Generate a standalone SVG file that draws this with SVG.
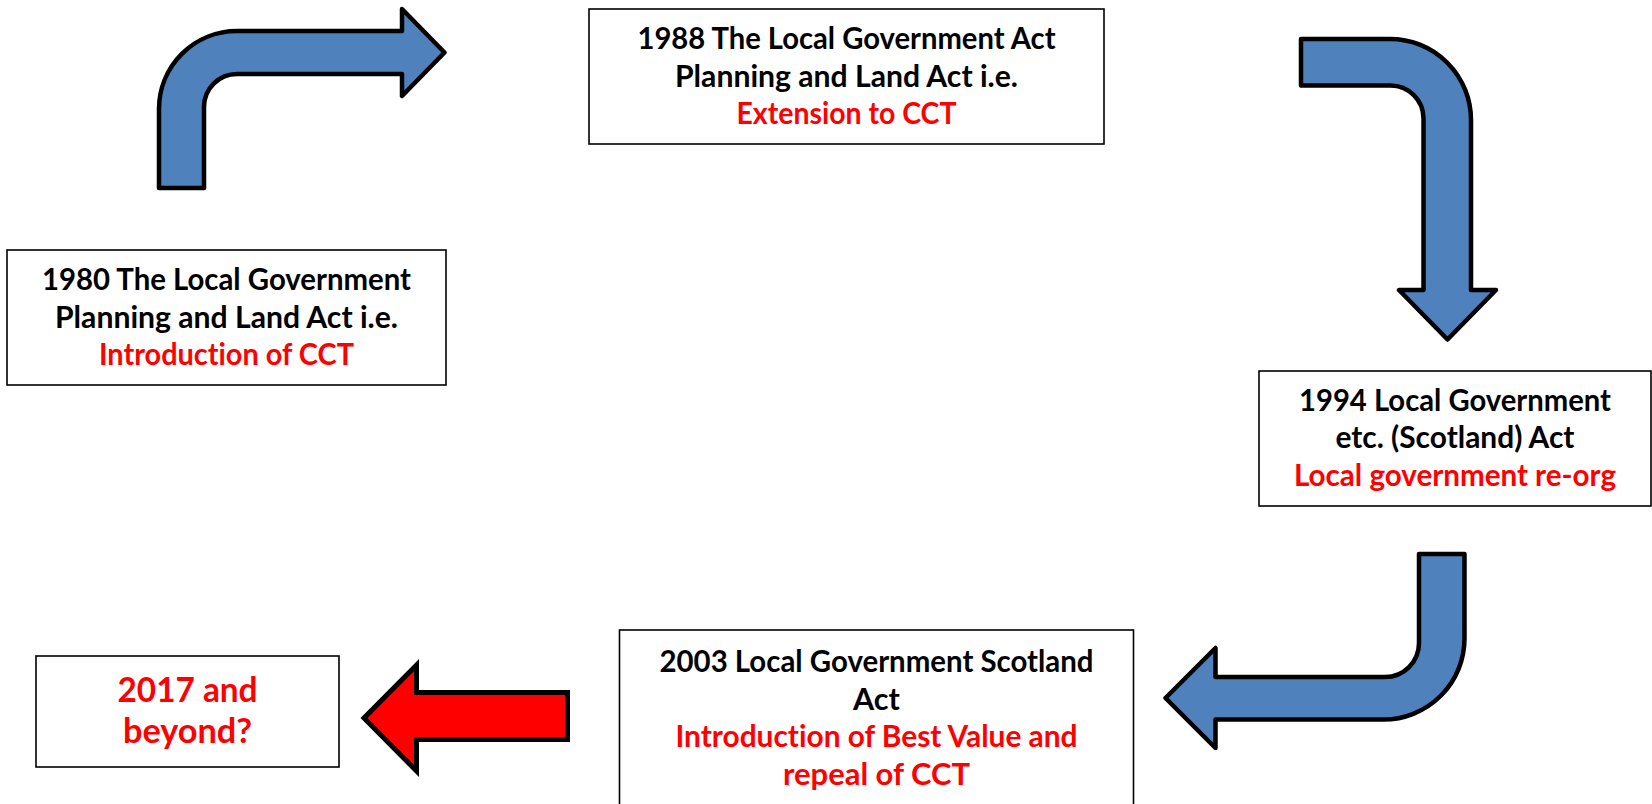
<svg xmlns="http://www.w3.org/2000/svg" width="1652" height="804" viewBox="0 0 1652 804">
<style>
.box{fill:#fff;stroke:#000;stroke-width:1.6}
.t{font-family:Lato,"Liberation Sans",sans-serif;font-weight:bold;font-size:30.5px;text-anchor:middle;fill:#000;font-variant-ligatures:none;font-feature-settings:"liga" 0}
.r{fill:#ff0000}
.big{font-size:35px}
.blue{fill:#4f81bd;stroke:#000;stroke-width:4.5;stroke-linejoin:round}
.red{fill:#ff0000;stroke:#000;stroke-width:5;stroke-linejoin:miter}
</style>
<rect width="1652" height="804" fill="#fff"/>
<g id="connectors">
<path class="blue" d="M159,188 L159,109 A78,78 0 0 1 237,31 L402,31 L402,9 L444.5,52.5 L402,96 L402,74 L237,74 A33,33 0 0 0 204,107 L204,188 Z"/>
<path class="blue" d="M1301,39 L1390,39 A81,81 0 0 1 1471,120 L1471,290 L1496,290 L1447.5,339.5 L1399,290 L1423.5,290 L1423.5,118.5 A33,33 0 0 0 1390.5,85.5 L1301,85.5 Z"/>
<path class="blue" d="M1419,554 L1464.5,554 L1464.5,638.5 A81,81 0 0 1 1383.5,719.5 L1215.5,719.5 L1215.5,748 L1165.5,698 L1215.5,648 L1215.5,677 L1385,677 A34,34 0 0 0 1419,643 Z"/>
<path class="red" d="M567.5,692.5 L567.5,739.5 L416.5,739.5 L416.5,771 L364,718 L416.5,665 L416.5,692.5 Z"/>
</g>
<g id="n1980">
<rect class="box" x="7" y="250" width="439" height="135"/>
<text class="t" x="226.5" y="290" textLength="369" lengthAdjust="spacingAndGlyphs">1980 The Local Government</text>
<text class="t" x="226.5" y="327.5" textLength="343" lengthAdjust="spacingAndGlyphs">Planning and Land Act i.e.</text>
<text class="t r" x="226.5" y="365" textLength="255" lengthAdjust="spacingAndGlyphs">Introduction of CCT</text>
</g>
<g id="n1988">
<rect class="box" x="589" y="9" width="515" height="135"/>
<text class="t" x="846.5" y="49" textLength="418" lengthAdjust="spacingAndGlyphs">1988 The Local Government Act</text>
<text class="t" x="846.5" y="86.5" textLength="343" lengthAdjust="spacingAndGlyphs">Planning and Land Act i.e.</text>
<text class="t r" x="846.5" y="124" textLength="220" lengthAdjust="spacingAndGlyphs">Extension to CCT</text>
</g>
<g id="n1994">
<rect class="box" x="1259" y="371" width="392" height="135"/>
<text class="t" x="1455" y="410.5" textLength="312" lengthAdjust="spacingAndGlyphs">1994 Local Government</text>
<text class="t" x="1455" y="448" textLength="239" lengthAdjust="spacingAndGlyphs">etc. (Scotland) Act</text>
<text class="t r" x="1455" y="486" textLength="322" lengthAdjust="spacingAndGlyphs">Local government re-org</text>
</g>
<g id="n2003">
<rect class="box" x="619.5" y="630" width="514" height="200"/>
<text class="t" x="876.5" y="672" textLength="434" lengthAdjust="spacingAndGlyphs">2003 Local Government Scotland</text>
<text class="t" x="876.5" y="709.5">Act</text>
<text class="t r" x="876.5" y="747" textLength="402" lengthAdjust="spacingAndGlyphs">Introduction of Best Value and</text>
<text class="t r" x="876.5" y="784.5" textLength="187" lengthAdjust="spacingAndGlyphs">repeal of CCT</text>
</g>
<g id="n2017">
<rect class="box" x="36" y="656" width="303" height="111"/>
<text class="t r big" x="187.5" y="702" textLength="140" lengthAdjust="spacingAndGlyphs">2017 and</text>
<text class="t r big" x="187.5" y="743" textLength="129" lengthAdjust="spacingAndGlyphs">beyond?</text>
</g>
</svg>
